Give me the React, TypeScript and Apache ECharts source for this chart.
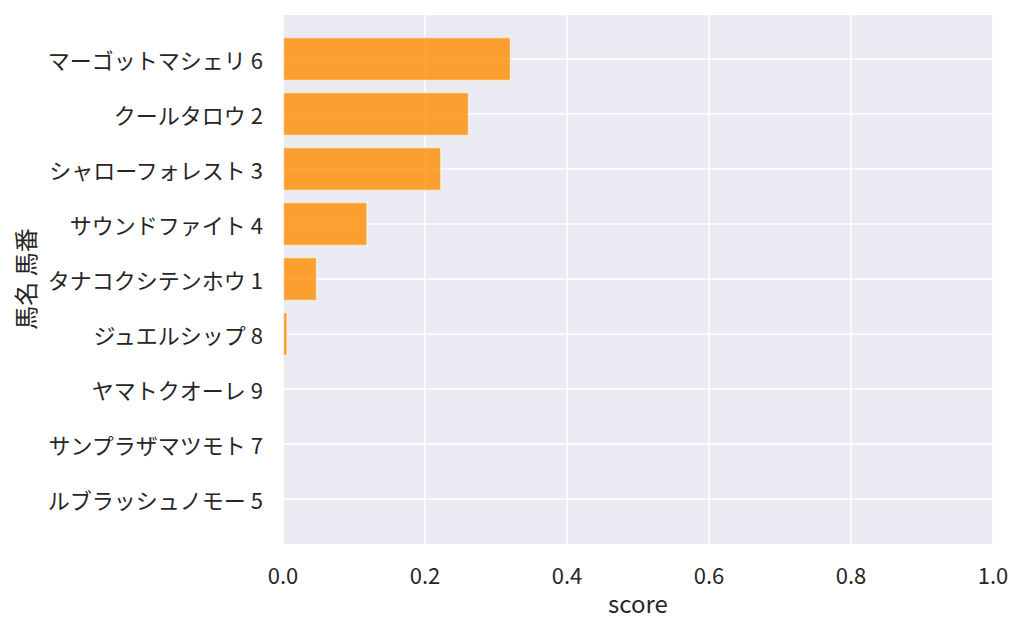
import React, { useEffect, useRef } from "react";
import * as echarts from "echarts";

const horseNames = [
  "マーゴットマシェリ 6",
  "クールタロウ 2",
  "シャローフォレスト 3",
  "サウンドファイト 4",
  "タナコクシテンホウ 1",
  "ジュエルシップ 8",
  "ヤマトクオーレ 9",
  "サンプラザマツモト 7",
  "ルブラッシュノモー 5",
];
const scores = [0.321, 0.262, 0.223, 0.119, 0.048, 0.0065, 0.002, 0.0008, 0.0002];
const xTicks = [0, 0.2, 0.4, 0.6, 0.8, 1.0];

const FONT = "'Noto Sans CJK JP', 'Noto Sans', sans-serif";
const TEXT = "#262626";

export default function App() {
  const ref = useRef<HTMLDivElement>(null);
  useEffect(() => {
    if (!ref.current) return;
    const chart = echarts.init(ref.current, undefined, { renderer: "svg" });
    const xMin = xTicks[0];
    const xMax = xTicks[xTicks.length - 1];
    chart.setOption({
      animation: false,
      textStyle: { fontFamily: FONT, color: TEXT },
      grid: [
        { left: 283, top: 15, width: 710, height: 529, show: true, backgroundColor: "#eaeaf2", borderWidth: 0 },
        { left: 283, top: 59, width: 710, height: 440 },
      ],
      xAxis: [
        {
          type: "value",
          gridIndex: 0,
          min: xMin,
          max: xMax,
          interval: 0.2,
          name: "score",
          nameLocation: "middle",
          nameGap: 46,
          nameTextStyle: { fontSize: 24, color: TEXT, fontFamily: FONT },
          axisLine: { show: false },
          axisTick: { show: false },
          axisLabel: {
            fontSize: 22,
            color: TEXT,
            fontFamily: FONT,
            margin: 19,
            formatter: (v: number) => v.toFixed(1),
          },
          splitLine: { show: true, lineStyle: { color: "#ffffff", width: 1.6 } },
        },
        {
          type: "value",
          gridIndex: 1,
          min: xMin,
          max: xMax,
          show: false,
          splitLine: { show: false },
        },
      ],
      yAxis: [
        {
          type: "value",
          gridIndex: 0,
          min: 0,
          max: 1,
          show: false,
          splitLine: { show: false },
        },
        {
          type: "category",
          gridIndex: 1,
          data: horseNames,
          inverse: true,
          boundaryGap: false,
          name: "馬名 馬番",
          nameLocation: "middle",
          nameGap: 243,
          nameRotate: 90,
          nameTextStyle: { fontSize: 24, color: TEXT, fontFamily: FONT },
          axisLine: { show: false },
          axisTick: { show: false },
          axisLabel: { fontSize: 22, color: TEXT, fontFamily: FONT, margin: 20 },
          splitLine: { show: true, lineStyle: { color: "#ffffff", width: 1.6 } },
        },
      ],
      series: [
        {
          type: "bar",
          xAxisIndex: 1,
          yAxisIndex: 1,
          data: scores,
          barWidth: 44,
          clip: false,
          itemStyle: {
            color: "rgba(255,140,0,0.8)",
            borderColor: "rgba(255,255,255,0.6)",
            borderWidth: 1.2,
          },
        },
      ],
    });
    return () => chart.dispose();
  }, []);
  return <div ref={ref} style={{ width: 1024, height: 634, margin: -8 }} />;
}
